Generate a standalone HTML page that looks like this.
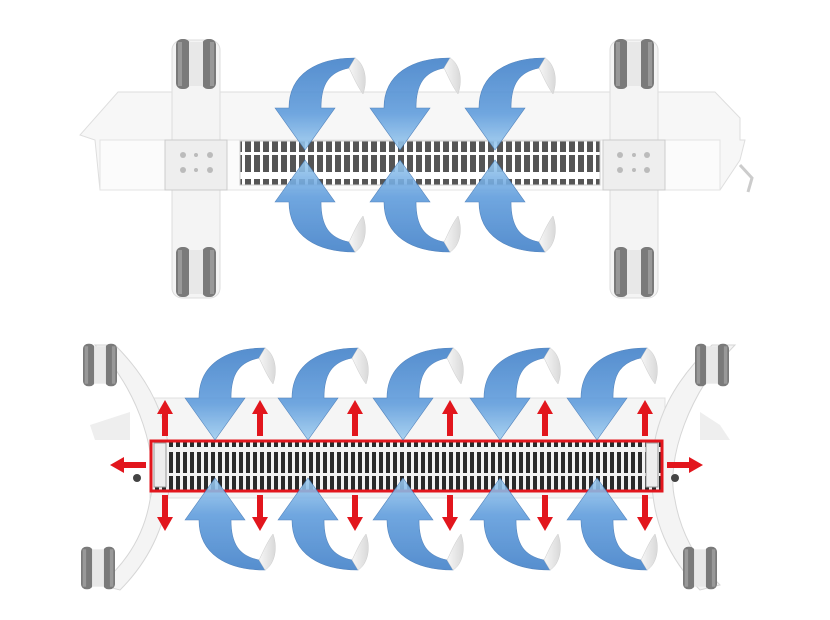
<!DOCTYPE html>
<html><head><meta charset="utf-8"><style>html,body{margin:0;padding:0;background:#fff}svg{display:block}</style></head>
<body>
<svg width="830" height="620" viewBox="0 0 830 620" xmlns="http://www.w3.org/2000/svg">
<defs>
<linearGradient id="bl" x1="0" y1="0" x2="0" y2="1">
<stop offset="0" stop-color="#3f7fc8"/><stop offset="0.6" stop-color="#5d9bdc"/><stop offset="1" stop-color="#9fcdf0"/>
</linearGradient>
<linearGradient id="wh" x1="0" y1="0" x2="1" y2="0"><stop offset="0" stop-color="#f6f6f6"/><stop offset="1" stop-color="#d9d9d9"/></linearGradient>
<g id="arr">
<path d="M-30,-42 L0,0 L30,-42 L16,-42 C16,-66 24,-78 44,-82 L50,-92 C12,-92 -16,-76 -16,-42 Z" fill="url(#bl)" opacity="0.88" stroke="#3c74b5" stroke-width="0.6"/>
<path d="M44,-82 L50,-92 C60,-86 63,-70 58,-56 C52,-64 48,-74 44,-82 Z" fill="url(#wh)" stroke="#ccc" stroke-width="0.5"/>
</g>
<g id="rup"><path d="M-3,0 L-3,-22 L-8,-22 L0,-36 L8,-22 L3,-22 L3,0 Z" fill="#e2161d"/></g>
<g id="wheel"><rect x="-20" y="-25" width="14" height="50" rx="6" fill="#7a7a7a"/><rect x="6" y="-25" width="14" height="50" rx="6" fill="#7a7a7a"/><rect x="-7" y="-22" width="14" height="44" fill="#e8e8e8"/><rect x="-18" y="-22" width="4" height="44" fill="#999"/><rect x="14" y="-22" width="4" height="44" fill="#999"/></g>
<pattern id="gr" x="0" y="0" width="9" height="44" patternUnits="userSpaceOnUse"><rect width="9" height="44" fill="#fff"/><rect x="2" y="3" width="6" height="17" fill="#555"/><rect x="2" y="23" width="6" height="17" fill="#555"/></pattern>
<pattern id="gr2" x="0" y="0" width="7" height="50" patternUnits="userSpaceOnUse"><rect width="7" height="50" fill="#f2f2f2"/><rect x="1" y="2" width="4" height="21" fill="#2a2a2a"/><rect x="1" y="26" width="4" height="21" fill="#2a2a2a"/></pattern>
</defs>

<!-- TOP HEATER -->
<path d="M118,92 L715,92 L740,118 L740,140 L745,140 L740,160 L720,190 L100,190 L95,140 L80,135 Z" fill="#f7f7f7" stroke="#dedede"/>
<rect x="100" y="140" width="620" height="50" fill="#fbfbfb" stroke="#e3e3e3"/>
<rect x="240" y="141" width="360" height="44" fill="url(#gr)" stroke="#ccc"/>
<!-- feet -->
<rect x="172" y="40" width="48" height="258" rx="10" fill="#f4f4f4" stroke="#ddd"/>
<rect x="610" y="40" width="48" height="258" rx="10" fill="#f4f4f4" stroke="#ddd"/>
<rect x="165" y="140" width="62" height="50" fill="#eee" stroke="#ccc"/>
<rect x="603" y="140" width="62" height="50" fill="#eee" stroke="#ccc"/>
<g fill="#bbb"><circle cx="183" cy="155" r="3"/><circle cx="196" cy="155" r="2"/><circle cx="210" cy="155" r="3"/><circle cx="183" cy="170" r="3"/><circle cx="196" cy="170" r="2"/><circle cx="210" cy="170" r="3"/>
<circle cx="620" cy="155" r="3"/><circle cx="634" cy="155" r="2"/><circle cx="647" cy="155" r="3"/><circle cx="620" cy="170" r="3"/><circle cx="634" cy="170" r="2"/><circle cx="647" cy="170" r="3"/></g>
<use href="#wheel" transform="translate(196,64)"/><use href="#wheel" transform="translate(196,272)"/>
<use href="#wheel" transform="translate(634,64)"/><use href="#wheel" transform="translate(634,272)"/>
<path d="M740,165 L752,178 L748,192" fill="none" stroke="#ccc" stroke-width="3"/>
<!-- top arrows -->
<use href="#arr" transform="translate(305,150)"/><use href="#arr" transform="translate(400,150)"/><use href="#arr" transform="translate(495,150)"/>
<use href="#arr" transform="translate(305,160) scale(1,-1)"/><use href="#arr" transform="translate(400,160) scale(1,-1)"/><use href="#arr" transform="translate(495,160) scale(1,-1)"/>

<!-- BOTTOM HEATER -->
<rect x="150" y="398" width="515" height="100" fill="#f5f5f5" stroke="#e0e0e0"/>
<path d="M90,425 L130,412 L130,440 L95,440 Z" fill="#eee"/>
<path d="M720,425 L700,412 L700,440 L730,440 Z" fill="#eee"/>
<path d="M95,345 C140,390 160,460 150,500 C145,530 130,560 100,585 L120,590 C150,560 170,520 170,470 C170,420 150,380 115,345 Z" fill="#f4f4f4" stroke="#d6d6d6"/>
<path d="M735,345 C690,390 665,460 675,500 C680,530 695,560 720,585 L700,590 C670,560 650,520 652,470 C652,420 675,380 712,345 Z" fill="#f4f4f4" stroke="#d6d6d6"/>
<circle cx="137" cy="478" r="4" fill="#444"/><circle cx="675" cy="478" r="4" fill="#444"/>
<use href="#wheel" transform="translate(100,365) scale(0.85)"/><use href="#wheel" transform="translate(98,568) scale(0.85)"/>
<use href="#wheel" transform="translate(712,365) scale(0.85)"/><use href="#wheel" transform="translate(700,568) scale(0.85)"/>
<rect x="151" y="441" width="511" height="50" fill="url(#gr2)"/>
<rect x="154" y="443" width="12" height="44" fill="#eee" stroke="#999"/>
<rect x="646" y="443" width="12" height="44" fill="#eee" stroke="#999"/>
<rect x="151" y="441" width="511" height="50" fill="none" stroke="#e2161d" stroke-width="3"/>
<!-- red arrows -->
<g>
<use href="#rup" transform="translate(165,436)"/><use href="#rup" transform="translate(260,436)"/><use href="#rup" transform="translate(355,436)"/><use href="#rup" transform="translate(450,436)"/><use href="#rup" transform="translate(545,436)"/><use href="#rup" transform="translate(645,436)"/>
<use href="#rup" transform="translate(165,495) scale(1,-1)"/><use href="#rup" transform="translate(260,495) scale(1,-1)"/><use href="#rup" transform="translate(355,495) scale(1,-1)"/><use href="#rup" transform="translate(450,495) scale(1,-1)"/><use href="#rup" transform="translate(545,495) scale(1,-1)"/><use href="#rup" transform="translate(645,495) scale(1,-1)"/>
<use href="#rup" transform="translate(146,465) rotate(-90)"/><use href="#rup" transform="translate(667,465) rotate(90)"/>
</g>
<!-- bottom blue arrows -->
<use href="#arr" transform="translate(215,440)"/><use href="#arr" transform="translate(308,440)"/><use href="#arr" transform="translate(403,440)"/><use href="#arr" transform="translate(500,440)"/><use href="#arr" transform="translate(597,440)"/>
<use href="#arr" transform="translate(215,478) scale(1,-1)"/><use href="#arr" transform="translate(308,478) scale(1,-1)"/><use href="#arr" transform="translate(403,478) scale(1,-1)"/><use href="#arr" transform="translate(500,478) scale(1,-1)"/><use href="#arr" transform="translate(597,478) scale(1,-1)"/>
</svg>
</body></html>
